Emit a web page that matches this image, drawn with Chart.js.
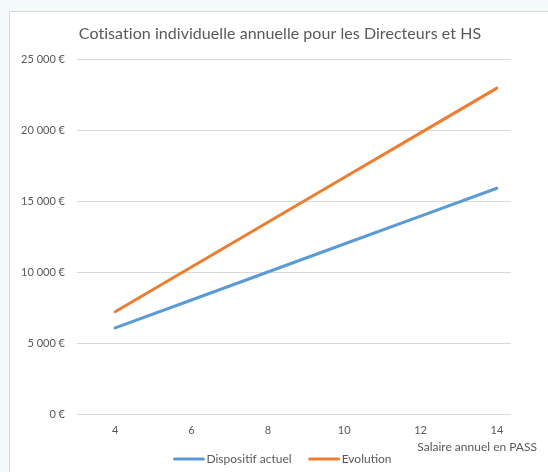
<!DOCTYPE html>
<html>
<head>
<meta charset="utf-8">
<script src="https://cdn.jsdelivr.net/npm/chart.js@4"></script>
<style>
  html, body { margin: 0; padding: 0; background: #f4f9fc; }
  #wrap { position: relative; width: 548px; height: 472px; }
  canvas { display: block; }
</style>
</head>
<body>
<div id="wrap"><canvas id="c" width="548" height="472"></canvas></div>
<script>
const chartTitle = "Cotisation individuelle annuelle pour les Directeurs et HS";
const xAxisTitle = "Salaire annuel en PASS";
const xValues = [4, 6, 8, 10, 12, 14];
const xTickLabels = [4, 6, 8, 10, 12, 14];
const seriesNames = ["Dispositif actuel", "Evolution"];
const dispositifActuel = [6060, 8030, 10000, 11970, 13940, 15900];
const evolution = [7200, 10350, 13500, 16650, 19800, 22950];
const yTicks = [0, 5000, 10000, 15000, 20000, 25000];
const colors = ["#5b9bd5", "#ed7d31"];
const FONT = "Lato, 'Open Sans', sans-serif";
const TXT = "#595959";

function fmtEuro(v) {
  return String(Math.round(v)).replace(/\B(?=(\d{3})+(?!\d))/g, " ") + " €";
}

const decor = {
  id: "decor",
  beforeDraw(chart) {
    const ctx = chart.ctx;
    ctx.save();
    ctx.fillStyle = "#f4f9fc";
    ctx.fillRect(0, 0, chart.width, chart.height);
    ctx.fillStyle = "#ffffff";
    ctx.fillRect(9.5, 11.5, chart.width, chart.height);
    ctx.strokeStyle = "#d9d9d9";
    ctx.lineWidth = 1;
    ctx.beginPath();
    ctx.moveTo(9.5, chart.height);
    ctx.lineTo(9.5, 11.5);
    ctx.lineTo(chart.width, 11.5);
    ctx.stroke();
    ctx.restore();
  },
  afterDraw(chart) {
    const ctx = chart.ctx;
    ctx.save();
    ctx.fillStyle = TXT;
    ctx.textBaseline = "middle";
    // title
    ctx.font = "16px " + FONT;
    ctx.textAlign = "center";
    if ("letterSpacing" in ctx) ctx.letterSpacing = "0.05px";
    ctx.fillText(chartTitle, 280, 34);
    if ("letterSpacing" in ctx) ctx.letterSpacing = "0px";
    // axis title
    ctx.font = "12px " + FONT;
    ctx.textAlign = "right";
    ctx.fillText(xAxisTitle, 537, 447);
    // legend
    ctx.font = "12px " + FONT;
    ctx.textAlign = "left";
    const items = chart.data.datasets;
    const lineW = 30, gap = 3, between = 17;
    let total = 0;
    const widths = items.map(d => ctx.measureText(d.label).width);
    widths.forEach((w, i) => { total += lineW + gap + w + (i < widths.length - 1 ? between : 0); });
    let x = 282.5 - total / 2;
    const y = 459;
    items.forEach((d, i) => {
      ctx.strokeStyle = d.borderColor;
      ctx.lineWidth = 3;
      ctx.lineCap = "round";
      ctx.beginPath();
      ctx.moveTo(x + 1, y);
      ctx.lineTo(x + lineW, y);
      ctx.stroke();
      ctx.fillStyle = TXT;
      ctx.fillText(d.label, x + lineW + gap, y);
      x += lineW + gap + widths[i] + between;
    });
    ctx.restore();
  }
};

new Chart(document.getElementById("c"), {
  type: "line",
  data: {
    datasets: [
      { label: seriesNames[0], data: xValues.map((x, i) => ({ x, y: dispositifActuel[i] })), borderColor: colors[0], backgroundColor: colors[0] },
      { label: seriesNames[1], data: xValues.map((x, i) => ({ x, y: evolution[i] })), borderColor: colors[1], backgroundColor: colors[1] }
    ]
  },
  options: {
    responsive: false,
    animation: false,
    devicePixelRatio: 1,
    layout: { padding: { top: 59, left: 0, right: 37, bottom: 28 } },
    elements: {
      line: { borderWidth: 3, tension: 0, borderCapStyle: "round" },
      point: { radius: 0, hoverRadius: 0 }
    },
    plugins: {
      legend: { display: false },
      title: { display: false },
      tooltip: { enabled: false }
    },
    scales: {
      x: {
        type: "linear",
        min: 3,
        max: 14.37,
        grid: { display: false, drawTicks: false },
        border: { display: false },
        afterBuildTicks(scale) { scale.ticks = xTickLabels.map(v => ({ value: v })); },
        afterFit(scale) { scale.height = 30; },
        ticks: {
          color: TXT,
          font: { family: FONT, size: 11 },
          padding: 10,
          maxRotation: 0,
          callback: v => String(v)
        }
      },
      y: {
        min: 0,
        max: 25000,
        afterBuildTicks(scale) { scale.ticks = yTicks.map(v => ({ value: v })); },
        afterFit(scale) { scale.width = 77; },
        grid: { color: "#d9d9d9", lineWidth: 1, drawTicks: false },
        border: { display: false },
        ticks: {
          color: TXT,
          font: { family: FONT, size: 11 },
          padding: 12,
          callback: v => fmtEuro(v)
        }
      }
    }
  },
  plugins: [decor]
});
</script>
</body>
</html>
